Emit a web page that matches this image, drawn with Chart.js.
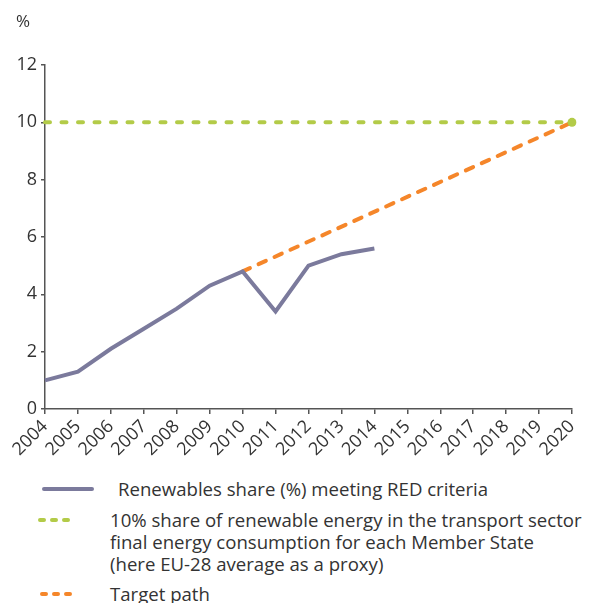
<!DOCTYPE html>
<html>
<head>
<meta charset="utf-8">
<script src="https://cdn.jsdelivr.net/npm/chart.js@4.4.1/dist/chart.umd.min.js"></script>
<style>
  html, body { margin: 0; padding: 0; background: #fff; }
  body { width: 590px; height: 603px; position: relative; overflow: hidden; font-family: 'Open Sans', sans-serif; color: #333; }
  #wrap { position: absolute; left: 0; top: 0; width: 590px; height: 470px; }
  #unit { position: absolute; left: 16px; top: 9px; font-size: 17px; }
  .item { position: absolute; font-size: 18.6px; line-height: 22px; }
  .item svg { position: absolute; }
</style>
</head>
<body>
<div id="wrap"><canvas id="c" width="590" height="470"></canvas></div>
<div id="unit">%</div>

<div class="item" style="left:0;top:478px;width:590px;">
  <svg style="left:40px;top:7px" width="60" height="8"><line x1="4" y1="4" x2="52" y2="4" stroke="#7b7a9c" stroke-width="4" stroke-linecap="round"/></svg>
  <div style="position:absolute;left:118px;top:0;white-space:nowrap;">Renewables share (%) meeting RED criteria</div>
</div>
<div class="item" style="left:0;top:509px;width:590px;">
  <svg style="left:34px;top:7px" width="50" height="8"><line x1="6" y1="4" x2="38" y2="4" stroke="#b3cb48" stroke-width="4" stroke-linecap="round" stroke-dasharray="4 8"/></svg>
  <div style="position:absolute;left:110px;top:0;white-space:nowrap;">10% share of renewable energy in the transport sector<br>final energy consumption for each Member State<br>(here EU-28 average as a proxy)</div>
</div>
<div class="item" style="left:0;top:583px;width:590px;">
  <svg style="left:36px;top:7px" width="50" height="8"><line x1="6" y1="4" x2="38" y2="4" stroke="#f5862a" stroke-width="4" stroke-linecap="round" stroke-dasharray="4 8"/></svg>
  <div style="position:absolute;left:110px;top:0;white-space:nowrap;">Target path</div>
</div>

<script>
// Years on the horizontal axis
const years = ['2004','2005','2006','2007','2008','2009','2010','2011','2012',
               '2013','2014','2015','2016','2017','2018','2019','2020'];

// Renewables share (%) meeting RED criteria, EU-28
const renewablesShare = [1.0, 1.3, 2.1, 2.8, 3.5, 4.3, 4.8, 3.4, 5.0, 5.4, 5.6,
                         null, null, null, null, null, null];

// 10 % target level
const targetLevel = [10, 10, 10, 10, 10, 10, 10, 10, 10, 10, 10, 10, 10, 10, 10, 10, 10];

// Target path from the 2010 level to 10 % in 2020
const targetPath = [null, null, null, null, null, null, 4.8, null, null, null,
                    null, null, null, null, null, null, 10];

// Value-axis ticks
const yTicks = [0, 2, 4, 6, 8, 10, 12];

const axisColor = '#555';
const textColor = '#333';
const tickFont = { family: "'Open Sans', sans-serif", size: 18 };

new Chart(document.getElementById('c'), {
  type: 'line',
  data: {
    labels: years,
    datasets: [
      {
        label: '10% share',
        data: targetLevel,
        borderColor: '#b3cb48',
        backgroundColor: '#b3cb48',
        borderWidth: 4,
        borderDash: [5, 11.5],
        borderCapStyle: 'round',
        pointRadius: (ctx) => ctx.dataIndex === targetLevel.length - 1 ? 4.5 : 0,
        pointHoverRadius: 0,
        pointBorderWidth: 0,
        order: 0
      },
      {
        label: 'Renewables share',
        data: renewablesShare,
        borderColor: '#7b7a9c',
        borderWidth: 4,
        borderJoinStyle: 'miter',
        pointRadius: 0,
        order: 1
      },
      {
        label: 'Target path',
        data: targetPath,
        spanGaps: true,
        borderColor: '#f5862a',
        borderWidth: 4,
        borderDash: [8, 9.5],
        borderCapStyle: 'round',
        pointRadius: 0,
        order: 2
      }
    ]
  },
  options: {
    responsive: false,
    animation: false,
    events: [],
    layout: { padding: { top: 65, right: 18, left: 0, bottom: 0 } },
    plugins: { legend: { display: false }, tooltip: { enabled: false } },
    scales: {
      x: {
        offset: false,
        grid: { display: true, drawOnChartArea: false, drawTicks: true, tickLength: 5, color: axisColor, lineWidth: 1.5 },
        border: { display: true, color: axisColor, width: 1.5 },
        ticks: { color: textColor, font: tickFont, minRotation: 45, maxRotation: 45, autoSkip: false, padding: 2 },
        afterFit: (s) => { s.height = 61; }
      },
      y: {
        min: 0,
        max: 12,
        afterBuildTicks: (s) => { s.ticks = yTicks.map(v => ({ value: v })); },
        grid: { display: true, drawOnChartArea: false, drawTicks: true, tickLength: 4, color: axisColor, lineWidth: 1.5 },
        border: { display: true, color: axisColor, width: 1.5 },
        ticks: { color: textColor, font: tickFont, padding: 4 },
        afterFit: (s) => { s.width = 45; }
      }
    }
  }
});
</script>
</body>
</html>
